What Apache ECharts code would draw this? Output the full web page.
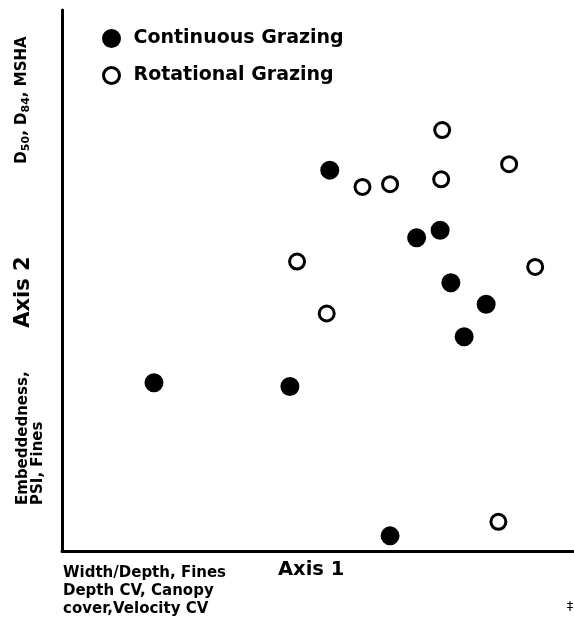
<!DOCTYPE html>
<html>
<head>
<meta charset="utf-8">
<script src="https://cdn.jsdelivr.net/npm/echarts@6/dist/echarts.min.js"></script>
<style>
html,body{margin:0;padding:0;background:#fff;}
#chart{width:574px;height:623px;}
</style>
</head>
<body>
<div id="chart"></div>
<script>
// Ordination scores (Axis 1, Axis 2) (arbitrary 0-100 units)
var continuousAxis1 = [52.4, 69.4, 74.0, 76.1, 83.0, 78.7, 18.0, 44.6, 64.2];
var continuousAxis2 = [70.4, 57.9, 59.3, 49.6, 45.6, 39.6, 31.1, 30.4, 2.8];
var rotationalAxis1 = [74.4, 87.5, 74.2, 58.8, 64.2, 46.0, 92.6, 51.8, 85.4];
var rotationalAxis2 = [77.8, 71.5, 68.7, 67.3, 67.8, 53.5, 52.5, 43.9, 5.4];
var seriesNames = ['Continuous Grazing', 'Rotational Grazing'];

var FONT = 'DejaVu Sans';

function pairs(xs, ys) {
  return xs.map(function (x, i) { return [x, ys[i]]; });
}

var chart = echarts.init(document.getElementById('chart'), null, {renderer: 'canvas'});

var option = {
  backgroundColor: '#ffffff',
  animation: false,
  grid: {left: 62, right: 1, top: 10, bottom: 72, containLabel: false},
  xAxis: {
    type: 'value', min: 0, max: 100,
    axisLine: {show: true, onZero: false, lineStyle: {color: '#000', width: 3}},
    axisTick: {show: false}, axisLabel: {show: false}, splitLine: {show: false}
  },
  yAxis: {
    type: 'value', min: 0, max: 100,
    axisLine: {show: true, onZero: false, lineStyle: {color: '#000', width: 3}},
    axisTick: {show: false}, axisLabel: {show: false}, splitLine: {show: false}
  },
  legend: {
    orient: 'vertical',
    left: 97, top: 24,
    itemWidth: 16, itemHeight: 16, itemGap: 18,
    textStyle: {fontFamily: FONT, fontWeight: 'bold', fontSize: 19, color: '#000', lineHeight: 16, padding: [0, 0, 0, 9]},
    data: [
      {name: seriesNames[0], icon: 'circle', itemStyle: {color: '#000', borderColor: '#000', borderWidth: 3}},
      {name: seriesNames[1], icon: 'circle', itemStyle: {color: '#fff', borderColor: '#000', borderWidth: 3}}
    ]
  },
  series: [
    {
      name: seriesNames[0], type: 'scatter', symbol: 'circle', symbolSize: 16,
      itemStyle: {color: '#000', borderColor: '#000', borderWidth: 3, opacity: 1},
      data: pairs(continuousAxis1, continuousAxis2)
    },
    {
      name: seriesNames[1], type: 'scatter', symbol: 'circle', symbolSize: 15,
      itemStyle: {color: '#fff', borderColor: '#000', borderWidth: 3, opacity: 1},
      data: pairs(rotationalAxis1, rotationalAxis2)
    }
  ],
  graphic: [
    {
      type: 'text', x: 22, y: 100, rotation: Math.PI / 2,
      style: {
        text: '{n|D}{s|50}{n|, D}{s|84}{n|, MSHA}',
        align: 'center', verticalAlign: 'middle',
        rich: {
          n: {fontFamily: FONT, fontWeight: 'bold', fontSize: 15, fill: '#000', lineHeight: 20},
          s: {fontFamily: FONT, fontWeight: 'bold', fontSize: 11, fill: '#000', padding: [9, 0, 0, 0], lineHeight: 20}
        }
      }
    },
    {
      type: 'text', x: 24, y: 292, rotation: Math.PI / 2,
      style: {text: 'Axis 2', fontFamily: FONT, fontWeight: 'bold', fontSize: 21, fill: '#000', align: 'center', verticalAlign: 'middle'}
    },
    {
      type: 'text', x: 31, y: 505, rotation: Math.PI / 2,
      style: {text: 'Embeddedness,\nPSI, Fines', fontFamily: FONT, fontWeight: 'bold', fontSize: 15, lineHeight: 15, fill: '#000', align: 'left', verticalAlign: 'middle'}
    },
    {
      type: 'text', x: 63, y: 564,
      style: {text: 'Width/Depth, Fines\nDepth CV, Canopy\ncover,Velocity CV', fontFamily: FONT, fontWeight: 'bold', fontSize: 15, lineHeight: 18, fill: '#000', align: 'left', verticalAlign: 'top'}
    },
    {
      type: 'text', x: 278, y: 570,
      style: {text: 'Axis 1', fontFamily: FONT, fontWeight: 'bold', fontSize: 19.5, fill: '#000', align: 'left', verticalAlign: 'middle'}
    },
    {
      type: 'text', x: 570, y: 607,
      style: {text: '\u2021', fontFamily: FONT, fontSize: 13, fill: '#000', align: 'center', verticalAlign: 'middle'}
    }
  ]
};
chart.setOption(option);
</script>
</body>
</html>
